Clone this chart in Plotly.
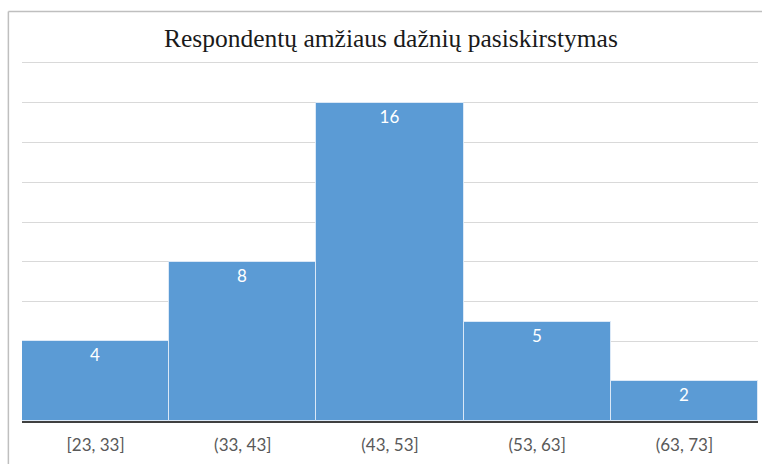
import plotly.graph_objects as go

categories = ["[23, 33]", "(33, 43]", "(43, 53]", "(53, 63]", "(63, 73]"]
counts = [4, 8, 16, 5, 2]
title_text = "Respondentų amžiaus dažnių pasiskirstymas"

fig = go.Figure()
fig.add_trace(go.Bar(
    x=categories,
    y=counts,
    width=1,
    marker=dict(color="#5B9BD5", line=dict(color="rgba(225,236,248,0.9)", width=1)),
    text=[str(v) for v in counts],
    textposition="inside",
    insidetextanchor="end",
    textfont=dict(color="white", size=17, family="Lato"),
    cliponaxis=False,
))

fig.update_layout(
    width=762, height=464,
    margin=dict(l=22, r=4, t=57, b=43),
    paper_bgcolor="white",
    plot_bgcolor="white",
    showlegend=False,
    title=dict(text=title_text, x=0.513, xanchor="center", y=0.918, yanchor="middle",
               font=dict(family="Liberation Serif", size=25.5, color="#1a1a1a")),
    bargap=0,
    xaxis=dict(
        showline=True, linecolor="#404040", linewidth=2,
        ticks="", tickfont=dict(family="Lato", size=17, color="#595959"),
        ticklabelstandoff=8,
        showgrid=False, range=[-0.5, 4.5],
    ),
    yaxis=dict(
        range=[0, 18.3], tick0=0, dtick=2, showgrid=True, gridcolor="#d9d9d9", gridwidth=1,
        showticklabels=False, zeroline=False, showline=False, ticks="",
    ),
    shapes=[
        dict(type="line", xref="paper", yref="paper", x0=-0.0185, x1=-0.0185, y0=1.125, y1=-0.3,
             line=dict(color="#bfbfbf", width=1.5)),
        dict(type="line", xref="paper", yref="paper", x0=-0.0185, x1=1.1, y0=1.125, y1=1.125,
             line=dict(color="#bfbfbf", width=1.5)),
    ],
)

fig.write_html("out.html", config={"displayModeBar": False},
               post_script="document.body.style.margin='0';")
